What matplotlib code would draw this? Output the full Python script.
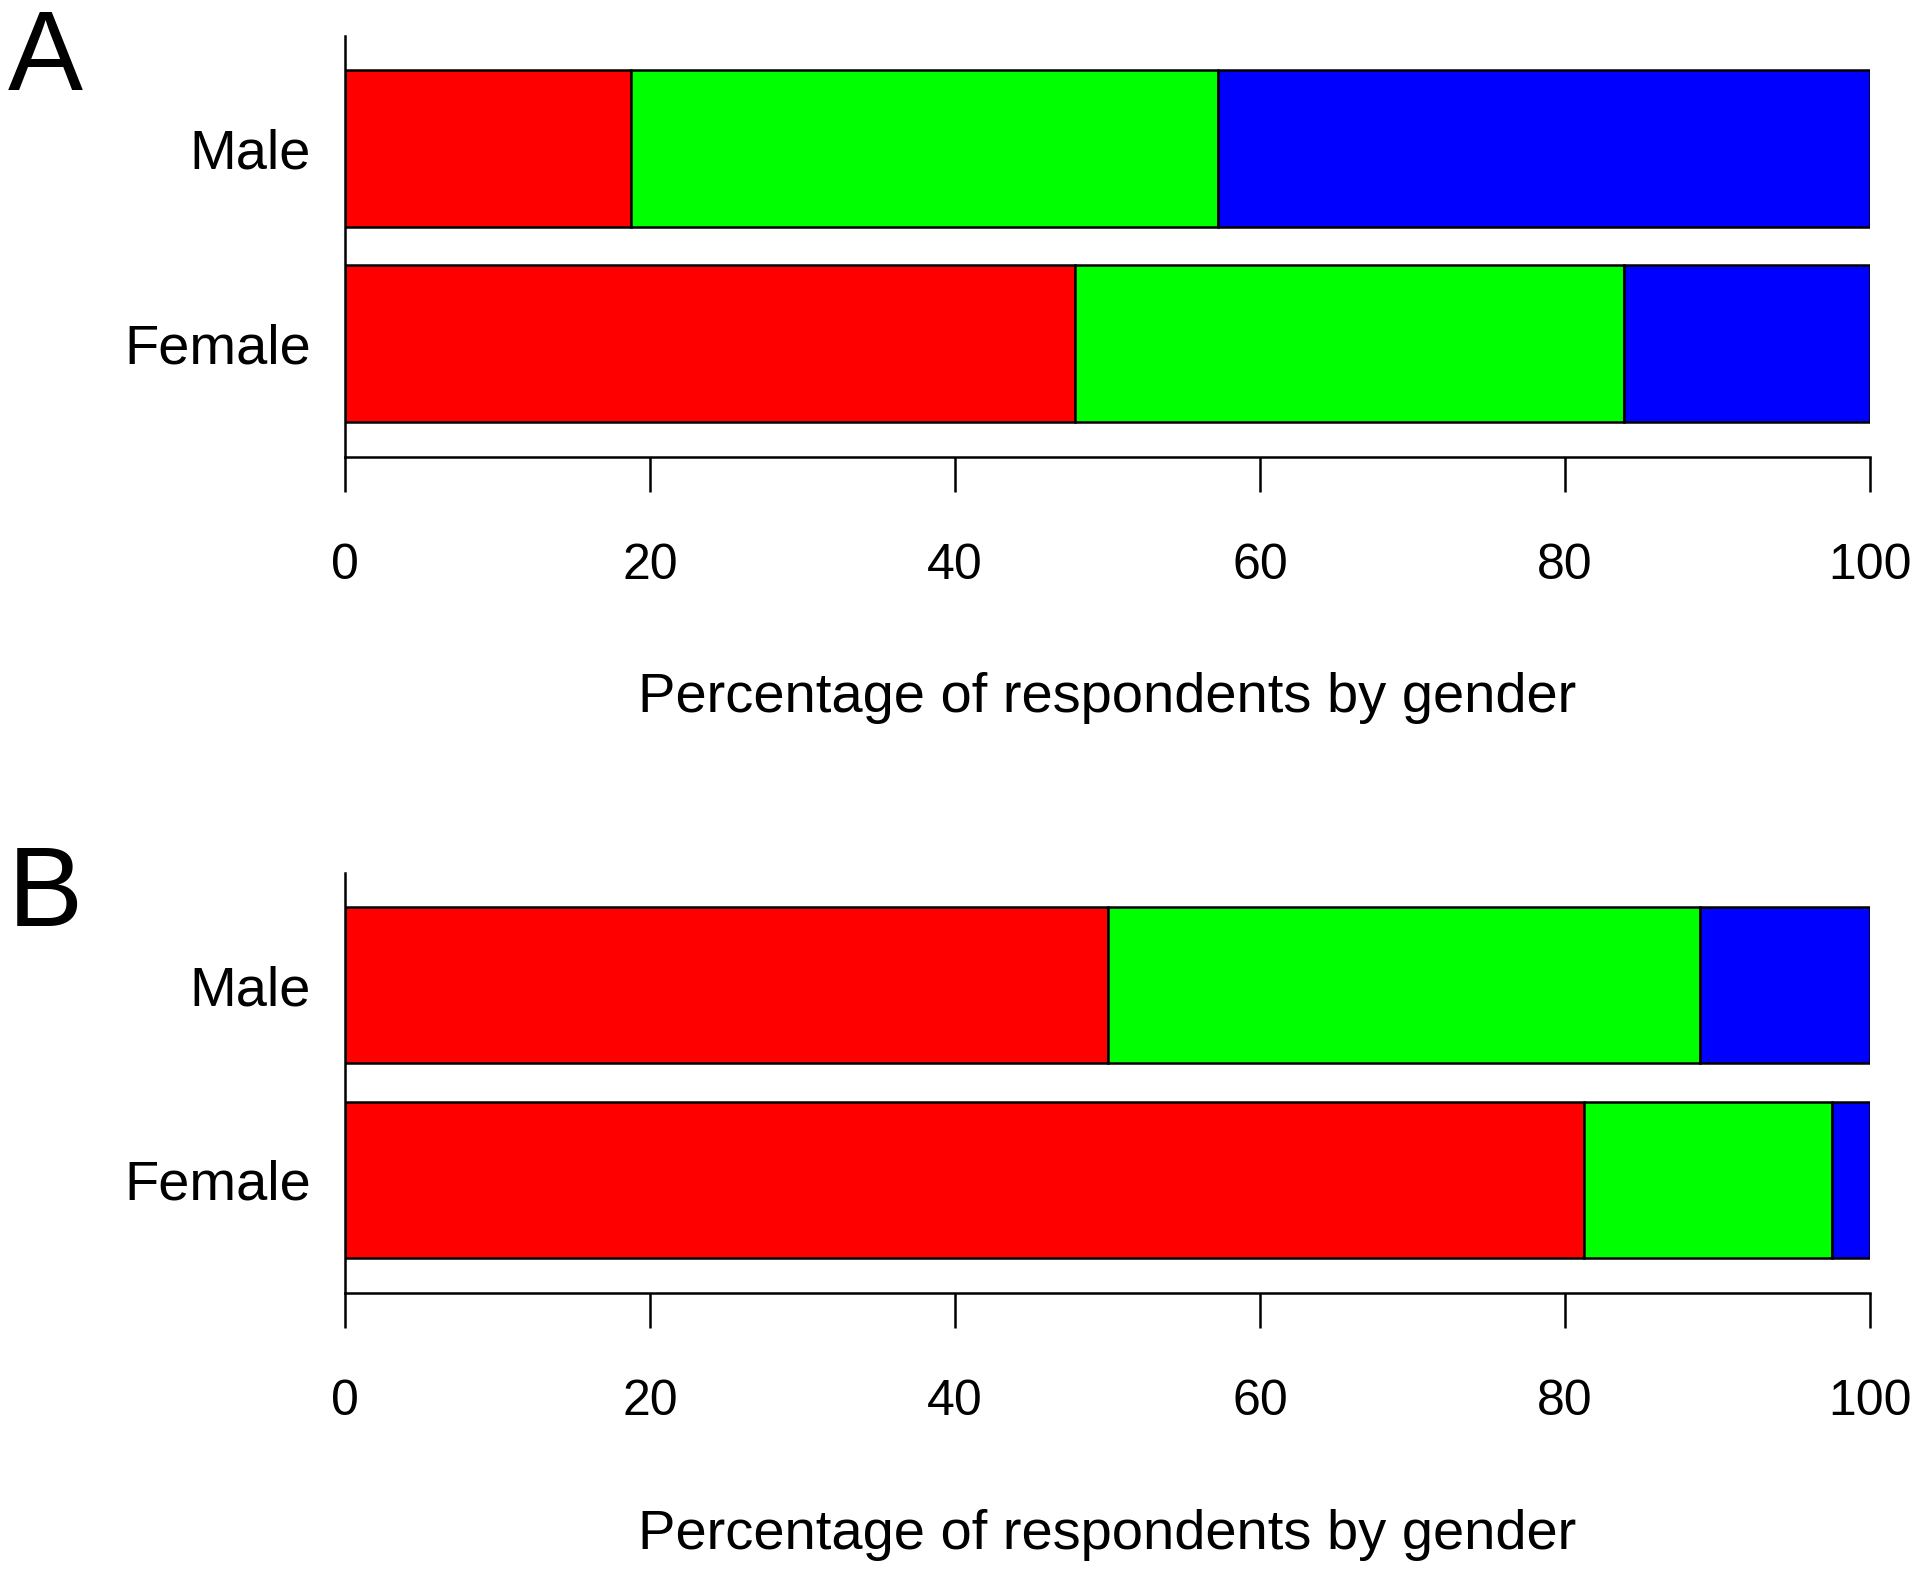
import matplotlib
matplotlib.use("Agg")
import matplotlib.pyplot as plt
import numpy as np

plt.rcParams['font.family'] = ['Liberation Sans', 'DejaVu Sans']

# ---- data ----
categories = ["Male", "Female"]
panel_letters = ["A", "B"]
x_label = "Percentage of respondents by gender"
x_ticks = [0, 20, 40, 60, 80, 100]
x_tick_labels = ["0", "20", "40", "60", "80", "100"]
seg_colors = ["#FF0000", "#00FF00", "#0000FF"]

# Panel A (Male, Female)
a_red = [18.75, 47.84]
a_green = [38.49, 36.06]
a_blue = [42.76, 16.10]
# Panel B (Male, Female)
b_red = [50.03, 81.27]
b_green = [38.82, 16.23]
b_blue = [11.15, 2.50]

W, H = 1920, 1571
DPI = 100
fig = plt.figure(figsize=(W / DPI, H / DPI), dpi=DPI)

def px2pt(p):
    return p * 72.0 / DPI

panels = [
    (panel_letters[0], [a_red, a_green, a_blue], 35.5, 456.7, 90, 712),
    (panel_letters[1], [b_red, b_green, b_blue], 872.5, 1293.0, 926, 1549),
]

bar_pos = [1.965, 0.721]   # Male, Female centres (data units)
ylim_top = 2.683

for letter, series, top_px, bot_px, letter_base, xlabel_base in panels:
    left = 345 / W
    width = (1870 - 345) / W
    bottom = 1 - bot_px / H
    height = (bot_px - top_px) / H
    ax = fig.add_axes([left, bottom, width, height])
    cum = np.zeros(len(categories))
    for vals, col in zip(series, seg_colors):
        vals = np.array(vals)
        ax.barh(bar_pos, vals, left=cum, height=1.0, color=col,
                edgecolor='black', linewidth=1.8)
        cum = cum + vals
    ax.set_xlim(0, 100)
    ax.set_ylim(0, ylim_top)
    for s in ['top', 'right']:
        ax.spines[s].set_visible(False)
    for s in ['left', 'bottom']:
        ax.spines[s].set_linewidth(1.8)
    ax.set_xticks(x_ticks)
    ax.set_xticklabels(x_tick_labels, fontsize=36)
    ax.tick_params(axis='x', length=px2pt(35), width=1.8, pad=px2pt(87))
    for lab in ax.get_xticklabels():
        lab.set_verticalalignment('baseline')
    ax.set_yticks(bar_pos)
    ax.set_yticklabels(categories, fontsize=40.3)
    ax.tick_params(axis='y', length=0, pad=px2pt(34))
    for lab in ax.get_yticklabels():
        lab.set_verticalalignment('center_baseline')
    fig.text((345 + 1870) / 2 / W, 1 - xlabel_base / H, x_label,
             ha='center', va='baseline', fontsize=40.4)
    fig.text(8 / W, 1 - letter_base / H, letter, ha='left', va='baseline',
             fontsize=81)

fig.savefig("out.png", dpi=DPI, facecolor='white')
